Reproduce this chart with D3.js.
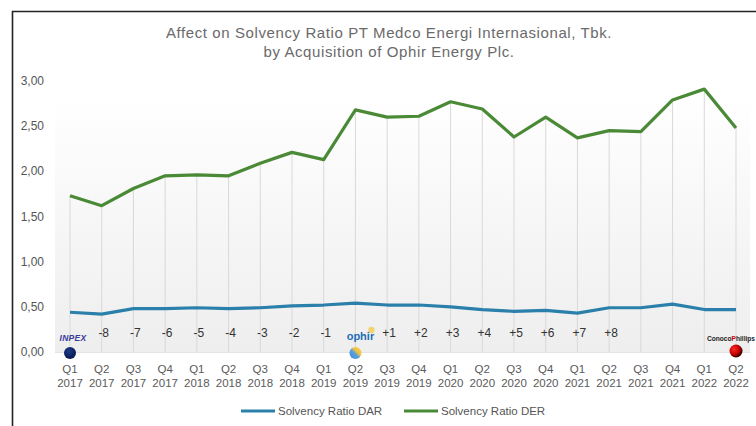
<!DOCTYPE html>
<html>
<head>
<meta charset="utf-8">
<script src="https://cdn.jsdelivr.net/npm/d3@7"></script>
<style>
html,body{margin:0;padding:0;background:#fff;}
svg{display:block;font-family:"Liberation Sans",Arial,sans-serif;}
</style>
</head>
<body>
<svg id="chart" width="756" height="426"></svg>
<script>
const quarters = ["Q1","Q2","Q3","Q4","Q1","Q2","Q3","Q4","Q1","Q2","Q3","Q4","Q1","Q2","Q3","Q4","Q1","Q2","Q3","Q4","Q1","Q2"];
const years = ["2017","2017","2017","2017","2018","2018","2018","2018","2019","2019","2019","2019","2020","2020","2020","2020","2021","2021","2021","2021","2022","2022"];
const derValues = [1.73,1.62,1.81,1.95,1.96,1.95,2.09,2.21,2.13,2.68,2.60,2.61,2.77,2.69,2.38,2.60,2.37,2.45,2.44,2.79,2.91,2.48];
const darValues = [0.44,0.42,0.48,0.48,0.49,0.48,0.49,0.51,0.52,0.54,0.52,0.52,0.50,0.47,0.45,0.46,0.43,0.49,0.49,0.53,0.47,0.47];
const offsetLabels = ["","-8","-7","-6","-5","-4","-3","-2","-1","","+1","+2","+3","+4","+5","+6","+7","+8","","","",""];
const yTicks = [0,0.5,1,1.5,2,2.5,3];
const titleLines = ["Affect on Solvency Ratio PT Medco Energi Internasional, Tbk.","by Acquisition of Ophir Energy Plc."];
const seriesNames = ["Solvency Ratio DAR","Solvency Ratio DER"];

const svg = d3.select("#chart");
const keys = quarters.map((q,i)=>i);
const x = d3.scalePoint().domain(keys).range([70,736]);
const y = d3.scaleLinear().domain([0,3]).range([352,81]);
const fmt = v => d3.format(".2f")(v).replace(".",",");

const defs = svg.append("defs");
const bg = defs.append("linearGradient").attr("id","bg").attr("x1",0).attr("y1",0).attr("x2",0).attr("y2",1);
bg.append("stop").attr("offset","0%").attr("stop-color","#ffffff");
bg.append("stop").attr("offset","100%").attr("stop-color","#eeeeee");
const og = defs.append("linearGradient").attr("id","ophirG").attr("x1",0).attr("y1",1).attr("x2",1).attr("y2",0);
og.append("stop").attr("offset","0%").attr("stop-color","#3f8ddb");
og.append("stop").attr("offset","45%").attr("stop-color","#5a9fdc");
og.append("stop").attr("offset","62%").attr("stop-color","#f0c23e");
og.append("stop").attr("offset","100%").attr("stop-color","#f6cf4f");
const cg = defs.append("radialGradient").attr("id","cocoG").attr("cx","35%").attr("cy","35%").attr("r","70%");
cg.append("stop").attr("offset","0%").attr("stop-color","#ff2a2a");
cg.append("stop").attr("offset","60%").attr("stop-color","#c00000");
cg.append("stop").attr("offset","100%").attr("stop-color","#200000");
const ig = defs.append("radialGradient").attr("id","inpexG").attr("cx","40%").attr("cy","35%").attr("r","70%");
ig.append("stop").attr("offset","0%").attr("stop-color","#1c3a8a");
ig.append("stop").attr("offset","100%").attr("stop-color","#061848");

// frame
svg.append("path").attr("d","M12.5,426 L12.5,11.5 L756,11.5").attr("fill","none").attr("stroke","#222").attr("stroke-width",1.6);

// plot background
svg.append("rect").attr("x",55).attr("y",95).attr("width",695).attr("height",y(0)-95).attr("fill","url(#bg)");

// title
svg.append("g").selectAll("text").data(titleLines).join("text")
  .attr("x",389).attr("y",(d,i)=>38+i*19).attr("text-anchor","middle")
  .attr("fill","#6a6a6a").attr("font-size",15).attr("letter-spacing",0.6).text(d=>d);

// y axis labels
svg.append("g").selectAll("text").data(yTicks).join("text")
  .attr("x",44).attr("y",d=>y(d)+4).attr("text-anchor","end")
  .attr("fill","#555").attr("font-size",12).text(d=>fmt(d));

// drop lines
svg.append("g").selectAll("line").data(keys).join("line")
  .attr("x1",d=>x(d)).attr("x2",d=>x(d))
  .attr("y1",d=>y(derValues[d])).attr("y2",y(0))
  .attr("stroke","#d9d9d9").attr("stroke-width",1);

// baseline
svg.append("line").attr("x1",55).attr("x2",750).attr("y1",y(0)+0.5).attr("y2",y(0)+0.5).attr("stroke","#e4e4e4");

// x labels
const xl = svg.append("g").selectAll("text").data(keys).join("text")
  .attr("text-anchor","middle").attr("fill","#5a5a5a").attr("font-size",11.5);
xl.append("tspan").attr("x",d=>x(d)).attr("y",373).text(d=>quarters[d]);
xl.append("tspan").attr("x",d=>x(d)).attr("y",387).text(d=>years[d]);

// offset labels
svg.append("g").selectAll("text").data(keys.filter(k=>offsetLabels[k]!=="")).join("text")
  .attr("x",d=>x(d)+2).attr("y",337).attr("text-anchor","middle")
  .attr("fill","#333").attr("font-size",12).text(d=>offsetLabels[d]);

// lines
const line = vals => d3.line().x((d,i)=>x(i)).y(d=>y(d))(vals);
svg.append("path").attr("d",line(darValues)).attr("fill","none").attr("stroke","#2b80ab").attr("stroke-width",3.2).attr("stroke-linejoin","round");
svg.append("path").attr("d",line(derValues)).attr("fill","none").attr("stroke","#4a8a36").attr("stroke-width",3.2).attr("stroke-linejoin","round");

// logos / markers
// INPEX
svg.append("text").attr("x",x(0)+3).attr("y",341).attr("text-anchor","middle")
  .attr("font-size",8.5).attr("font-weight","bold").attr("font-style","italic")
  .attr("fill","#3a3a9a").attr("letter-spacing",0.3).text("INPEX");
svg.append("circle").attr("cx",x(0)).attr("cy",353).attr("r",6).attr("fill","url(#inpexG)");
// Ophir
svg.append("circle").attr("cx",x(9)+16).attr("cy",330).attr("r",3.2).attr("fill","#f3c84a").attr("opacity",0.75);
svg.append("text").attr("x",x(9)+5).attr("y",340).attr("text-anchor","middle")
  .attr("font-size",11).attr("font-weight","bold").attr("fill","#1d6fb5").text("ophir");
svg.append("circle").attr("cx",x(9)).attr("cy",353).attr("r",6).attr("fill","url(#ophirG)");
// ConocoPhillips
const ct = svg.append("text").attr("x",755).attr("y",341).attr("text-anchor","end")
  .attr("font-size",6.6).attr("font-weight","bold").attr("fill","#222");
ct.append("tspan").text("Conoco");
ct.append("tspan").attr("fill","#c00").text("P");
ct.append("tspan").text("hillips");
svg.append("circle").attr("cx",x(21)).attr("cy",351).attr("r",6.5).attr("fill","url(#cocoG)");

// legend
const leg = [{n:seriesNames[0],c:"#2b80ab",x:241},{n:seriesNames[1],c:"#4a8a36",x:404}];
const lg = svg.append("g").selectAll("g").data(leg).join("g");
lg.append("line").attr("x1",d=>d.x).attr("x2",d=>d.x+34).attr("y1",411).attr("y2",411)
  .attr("stroke",d=>d.c).attr("stroke-width",3.2);
lg.append("text").attr("x",d=>d.x+37).attr("y",415).attr("fill","#555").attr("font-size",11.5).text(d=>d.n);
</script>
</body>
</html>
